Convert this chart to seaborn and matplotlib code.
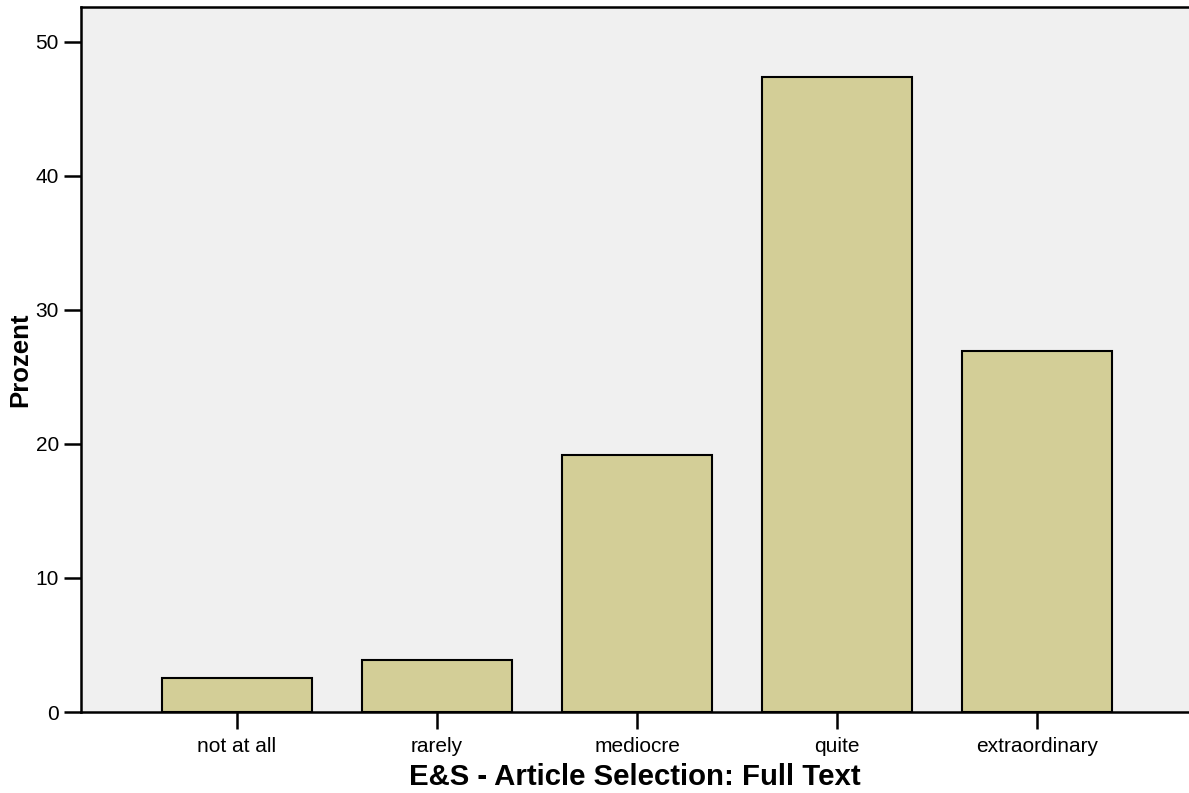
import matplotlib
matplotlib.use('Agg')
import matplotlib.pyplot as plt
import seaborn as sns
import pandas as pd

categories = ['not at all', 'rarely', 'mediocre', 'quite', 'extraordinary']
percent = [2.5, 3.9, 19.2, 47.4, 26.9]
yticks = [0, 10, 20, 30, 40, 50]

df = pd.DataFrame({'cat': categories, 'pct': percent})

sns.set_style('white')
plt.rcParams['font.family'] = ['Liberation Sans', 'DejaVu Sans']
plt.rcParams['text.color'] = 'black'
plt.rcParams['axes.labelcolor'] = 'black'

fig = plt.figure(figsize=(11.89, 7.93), dpi=100)
ax = fig.add_axes([81/1189, 81/793, 1 - 81/1189, (712 - 7)/793])
ax.set_facecolor('#f0f0f0')

sns.barplot(data=df, x='cat', y='pct', color='#d3ce97', saturation=1,
            width=0.75, edgecolor='black', linewidth=1.5, ax=ax)

ax.set_xlim(-0.78, 4.76)
ax.set_ylim(0, 52.6)
ax.set_yticks(yticks)
ax.set_yticklabels([str(t) for t in yticks])

for side in ['left', 'bottom', 'top']:
    ax.spines[side].set_visible(True)
    ax.spines[side].set_color('black')
    ax.spines[side].set_linewidth(1.8)
ax.spines['right'].set_visible(False)

ax.tick_params(axis='both', direction='out', length=12, width=1.8, color='black',
               labelsize=15, labelcolor='black', pad=4)
ax.tick_params(axis='x', pad=6)
ax.tick_params(left=True, bottom=True)

ax.set_xlabel('E&S - Article Selection: Full Text', fontsize=21.2, fontweight='bold',
              color='black', labelpad=5)
ax.set_ylabel('Prozent', fontsize=18.5, fontweight='bold', color='black', labelpad=2)

fig.savefig('out.png', dpi=100)
